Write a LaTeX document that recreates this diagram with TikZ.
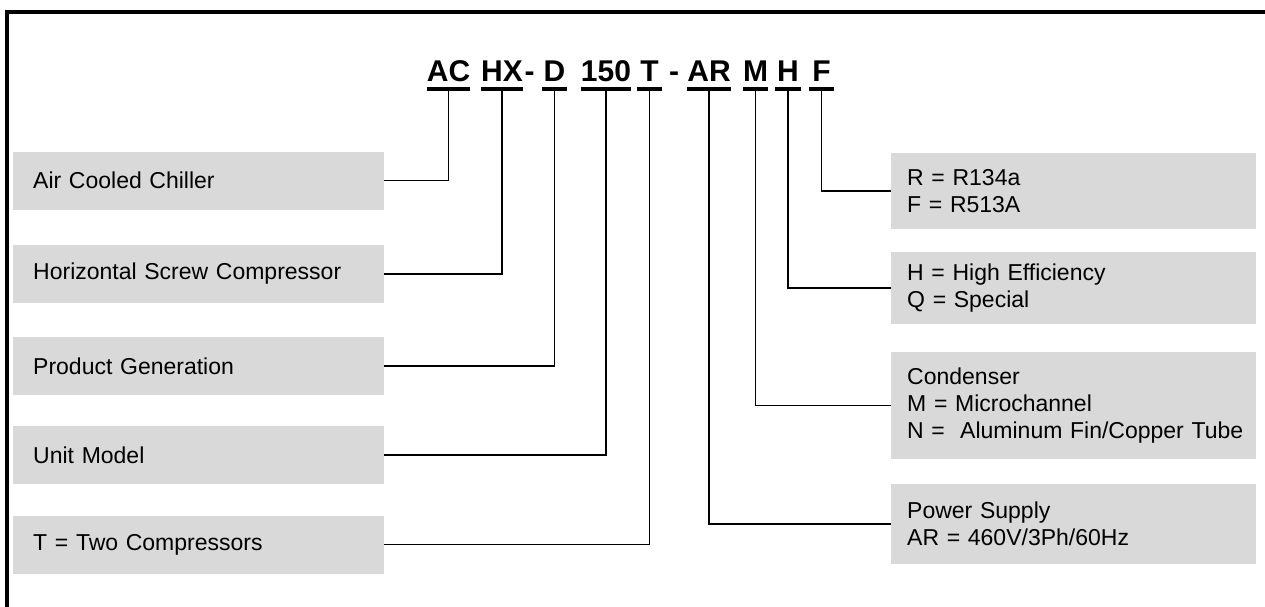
\documentclass[tikz,border=0pt]{standalone}
\usepackage{fontspec}
\setmainfont{Liberation Sans}
\definecolor{boxgray}{HTML}{D9D9D9}
\begin{document}
\begin{tikzpicture}[
        x=1pt, y=-1pt,
        leftbox/.style={
            fill=boxgray,
            align=left,
            text width=331pt,
            minimum height=58pt,
            inner xsep=20pt,
            inner ysep=0pt,
            anchor=west,
            font=\fontsize{23}{27}\selectfont
        },
        rightbox/.style={
            fill=boxgray,
            align=left,
            text width=333pt,
            inner xsep=16pt,
            inner ysep=0pt,
            anchor=west,
            font=\fontsize{23}{27}\selectfont
        },
        code/.style={
            anchor=base,
            minimum width=25pt,
            inner xsep=0pt,
            inner ysep=7pt,
            font=\fontsize{30}{36}\selectfont\bfseries
        },
        underline/.style={line width=4pt},
        link/.style={line width=1.5pt}
    ]
        \useasboundingbox (0,0) rectangle (1265,607);
        \draw[line width=4pt, line join=miter] (7,607) -- (7,12) -- (1265,12);

        % model code
        \node[code] (ac) at (448.5,82) {AC};
        \node[code] (hx) at (502,82) {HX};
        \node[code, minimum width=0pt] (dasha) at (529.5,82) {-};
        \node[code] (gen) at (554.5,82) {D};
        \node[code] (size) at (606,82) {150};
        \node[code] (comp) at (649.5,82) {T};
        \node[code, minimum width=0pt] (dashb) at (674,82) {-};
        \node[code] (ar) at (709,82) {AR};
        \node[code] (m) at (755.5,82) {M};
        \node[code] (h) at (788,82) {H};
        \node[code] (f) at (821.5,82) {F};

        \foreach \c in {ac,hx,gen,size,comp,ar,m,h,f}
            \draw[underline] (\c.south west) -- (\c.south east);

        % left column
        \node[leftbox] (chiller) at (13,180.5) {Air Cooled Chiller};
        \node[leftbox] (screw) at (13,274) {Horizontal Screw Compressor};
        \node[leftbox] (product) at (13,366) {Product Generation};
        \node[leftbox] (unit) at (13,455) {Unit Model};
        \node[leftbox] (twocomp) at (13,544.5) {T = Two Compressors};

        % right column
        \node[rightbox, minimum height=76pt] (refrig) at (891,191)
            {R = R134a\\F = R513A};
        \node[rightbox, minimum height=72pt] (effic) at (891,288)
            {H = High Efficiency\\Q = Special};
        \node[rightbox, minimum height=107pt] (cond) at (891,405.5)
            {Condenser\\M = Microchannel\\\mbox{N =\ \ Aluminum Fin/Copper Tube}};
        \node[rightbox, minimum height=80pt] (power) at (891,524)
            {Power Supply\\AR = 460V/3Ph/60Hz};

        \draw[link] (ac.south) |- (chiller.east);
        \draw[link] (hx.south) |- (screw.east);
        \draw[link] (gen.south) |- (product.east);
        \draw[link] (size.south) |- (unit.east);
        \draw[link] (comp.south) |- (twocomp.east);
        \draw[link] (ar.south) |- (power.west);
        \draw[link] (m.south) |- (cond.west);
        \draw[link] (h.south) |- (effic.west);
        \draw[link] (f.south) |- (refrig.west);
    \end{tikzpicture}
\end{document}
